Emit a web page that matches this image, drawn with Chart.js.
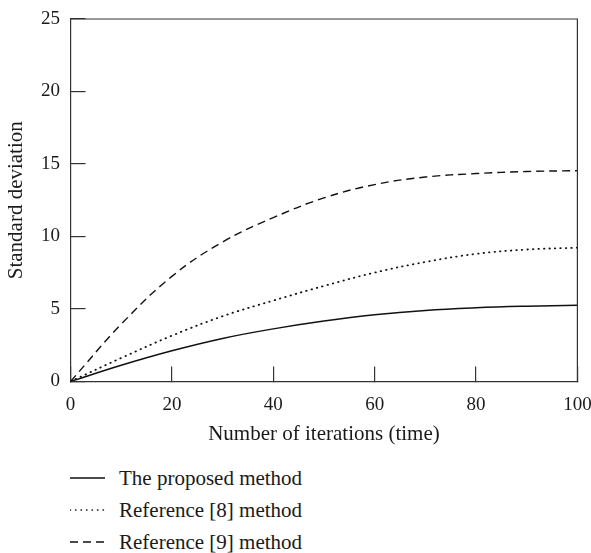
<!DOCTYPE html>
<html>
<head>
<meta charset="utf-8">
<script src="https://cdn.jsdelivr.net/npm/chart.js@4.4.1/dist/chart.umd.min.js"></script>
<style>
    body { margin: 0; background: #fff; }
    #wrap { position: relative; width: 591px; height: 460px; }
    #legend { margin: 2px 0 0 70px; font-family: 'Liberation Serif', 'DejaVu Serif', serif; font-size: 21px; color: #1a1a1a; }
    #legend .row { height: 32px; display: flex; align-items: center; }
    #legend svg { width: 36px; height: 10px; margin-right: 13px; }
</style>
</head>
<body>
<div id="wrap"><canvas id="sdChart"></canvas></div>
<div id="legend"></div>
<script>
// 數據 (從圖上讀取的估計值)
const iterations = [0, 10, 20, 30, 40, 50, 60, 70, 80, 90, 100];
const proposedSD = [0, 1.12, 2.12, 2.97, 3.63, 4.17, 4.60, 4.90, 5.08, 5.19, 5.26];
const ref8SD = [0, 1.62, 3.16, 4.50, 5.58, 6.59, 7.51, 8.24, 8.80, 9.10, 9.23];
const ref9SD = [0, 3.95, 7.25, 9.62, 11.30, 12.66, 13.58, 14.10, 14.34, 14.48, 14.54];
const xTicks = [0, 20, 40, 60, 80, 100];
const yTicks = [0, 5, 10, 15, 20, 25];
const seriesNames = ['The proposed method', 'Reference [8] method', 'Reference [9] method'];

const serif = "'Liberation Serif', 'DejaVu Serif', serif";
const axisColor = '#333';
const textColor = '#1a1a1a';

function toPoints(values) {
    return iterations.map((x, i) => ({ x: x, y: values[i] }));
}

// 外框 (上方和右方的邊線)
const frame = {
    id: 'frame',
    afterDatasetsDraw(chart) {
        const a = chart.chartArea;
        const ctx = chart.ctx;
        ctx.save();
        ctx.strokeStyle = axisColor;
        ctx.lineWidth = 1.2;
        ctx.beginPath();
        ctx.moveTo(a.left, a.top);
        ctx.lineTo(a.right, a.top);
        ctx.lineTo(a.right, a.bottom);
        ctx.stroke();
        ctx.restore();
    }
};

const common = {
    fill: false,
    pointRadius: 0,
    tension: 0.4,
    borderColor: '#111'
};

const chart = new Chart(document.getElementById('sdChart'), {
    type: 'line',
    data: {
        datasets: [
            Object.assign({ label: seriesNames[0], data: toPoints(proposedSD), borderWidth: 1.5, borderDash: [] }, common),
            Object.assign({ label: seriesNames[1], data: toPoints(ref8SD), borderWidth: 1.8, borderDash: [0.5, 5], borderCapStyle: 'round' }, common),
            Object.assign({ label: seriesNames[2], data: toPoints(ref9SD), borderWidth: 1.4, borderDash: [8, 5] }, common)
        ]
    },
    options: {
        responsive: true,
        maintainAspectRatio: false,
        animation: false,
        layout: { padding: { left: 0, top: 19, right: 13.6, bottom: 0 } },
        plugins: {
            legend: { display: false },
            tooltip: { enabled: false }
        },
        scales: {
            x: {
                type: 'linear',
                min: 0,
                max: 100,
                afterBuildTicks: (scale) => { scale.ticks = xTicks.map(v => ({ value: v })); },
                afterFit: (scale) => {
                    scale.height = 78.5;
                    scale.paddingLeft = 0;
                    scale.paddingRight = 0;
                },
                grid: { drawOnChartArea: false, tickLength: -15, color: axisColor, lineWidth: 1.2 },
                border: { color: axisColor, width: 1.2 },
                ticks: { padding: 27, color: textColor, font: { family: serif, size: 19 } },
                title: {
                    display: true,
                    text: 'Number of iterations (time)',
                    color: textColor,
                    font: { family: serif, size: 21 },
                    padding: { top: 0, bottom: 12.5 }
                }
            },
            y: {
                min: 0,
                max: 25,
                afterBuildTicks: (scale) => { scale.ticks = yTicks.map(v => ({ value: v })); },
                afterFit: (scale) => {
                    scale.width = 70.5;
                    scale.paddingTop = 0;
                    scale.paddingBottom = 0;
                },
                grid: { drawOnChartArea: false, tickLength: -15, color: axisColor, lineWidth: 1.2 },
                border: { color: axisColor, width: 1.2 },
                ticks: { padding: 25.5, color: textColor, font: { family: serif, size: 19 } },
                title: {
                    display: true,
                    text: 'Standard deviation',
                    color: textColor,
                    font: { family: serif, size: 21 },
                    padding: { top: 3.5, bottom: 0 }
                }
            }
        }
    },
    plugins: [frame]
});

// 圖例 (縱向排列, 線型取自數據集)
const legend = document.getElementById('legend');
chart.data.datasets.forEach(ds => {
    const row = document.createElement('div');
    row.className = 'row';
    const dash = ds.borderDash.length ? ds.borderDash.join(' ') : 'none';
    const cap = ds.borderCapStyle || 'butt';
    row.innerHTML = '<svg viewBox="0 0 36 10"><line x1="0" y1="5" x2="35" y2="5" stroke="' + ds.borderColor +
        '" stroke-width="' + Math.min(ds.borderWidth, 1.4) + '" stroke-dasharray="' + dash +
        '" stroke-linecap="' + cap + '"/></svg><span>' + ds.label + '</span>';
    legend.appendChild(row);
});
</script>
</body>
</html>
